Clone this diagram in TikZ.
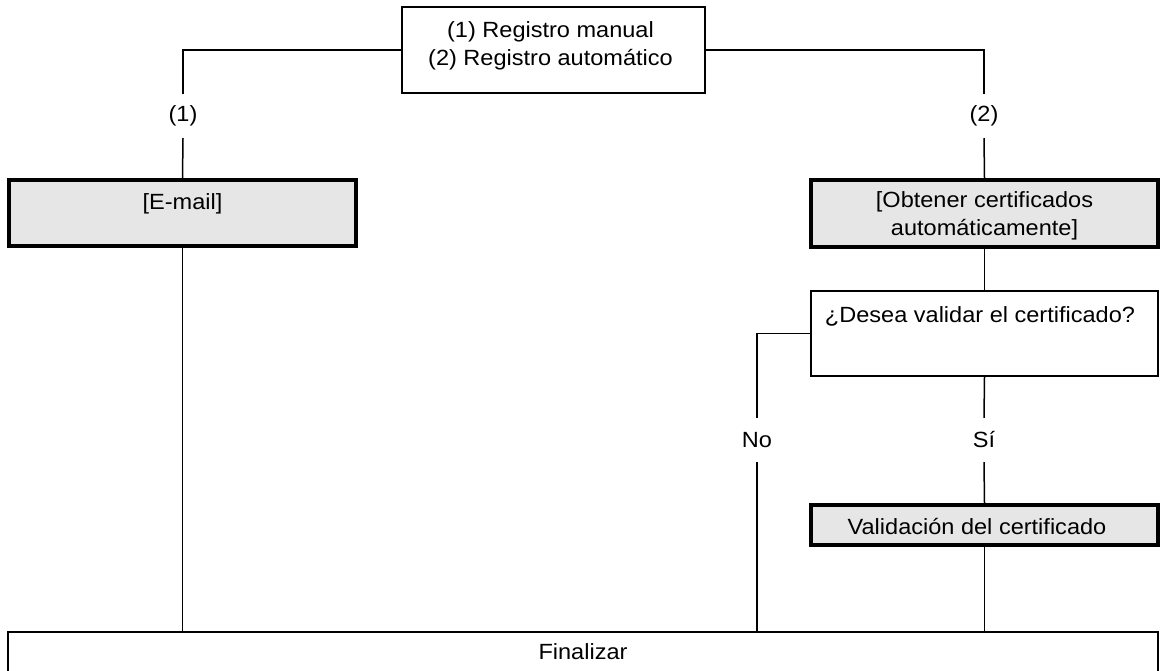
\documentclass[tikz,border=0pt]{standalone}
\usepackage{fontspec}
\setmainfont{Liberation Sans}[FakeStretch=1.07]
\begin{document}
\begin{tikzpicture}[x=1pt,y=-1pt,
  thinline/.style={line width=1.5pt},
  plainbox/.style={draw, line width=1.6pt, fill=white, inner sep=0pt, rectangle},
  graybox/.style={draw, line width=3.5pt, fill=boxgray, inner sep=0pt, rectangle},
  txt/.style={font=\fontsize{22}{28}\selectfont, inner sep=0pt, anchor=base, align=center},
  lbl/.style={font=\fontsize{22}{28}\selectfont, inner sep=0pt, minimum height=44pt, minimum width=30pt}
]
\definecolor{boxgray}{HTML}{E6E6E6}
\fill[white] (0,0) rectangle (1161,671);
\useasboundingbox (0,0) rectangle (1161,671);

% boxes
\node[plainbox, minimum width=303pt, minimum height=86pt] (top) at (553.5,50) {};
\node[graybox, minimum width=347pt, minimum height=66pt] (email) at (182.5,213) {};
\node[graybox, minimum width=347pt, minimum height=67pt] (obt) at (984.5,213.5) {};
\node[plainbox, minimum width=347pt, minimum height=85pt] (q) at (984.5,333.5) {};
\node[graybox, minimum width=347pt, minimum height=40pt] (val) at (984.5,525) {};
\node[plainbox, minimum width=1150pt, minimum height=46pt] (fin) at (583,655) {};

% texts (base = baseline of the last line)
\node[txt] (toptxt) at (550.5,65.5) {(1) Registro manual\\(2) Registro automático};
\node[txt] (emailtxt) at (182.5,209) {[E-mail]};
\node[txt] (obttxt) at (984.5,235.5) {[Obtener certificados\\automáticamente]};
\node[txt] (qtxt) at (980,322) {¿Desea validar el certificado?};
\node[txt] (valtxt) at (977,534) {Validación del certificado};
\node[txt] (fintxt) at (583,659.5) {Finalizar};

% branch labels
\node[lbl] (l1) at (183,116) {(1)};
\node[lbl] (l2) at (984,116) {(2)};
\node[lbl] (lno) at (757,440) {No};
\node[lbl] (lsi) at (984,440) {Sí};

% connectors
\draw[thinline] (top.west) -| (l1.north);
\draw[thinline] (l1.south) -- (email.north);
\draw[thinline] (top.east) -| (l2.north);
\draw[thinline] (l2.south) -- (obt.north);
\draw[thinline] (obt.south) -- (q.north);
\draw[thinline] (q.west) -| (lno.north);
\draw[thinline] (lno.south) -- (lno.south |- fin.north);
\draw[thinline] (q.south) -- (lsi.north);
\draw[thinline] (lsi.south) -- (val.north);
\draw[thinline] (val.south) -- (val.south |- fin.north);
\draw[thinline] (email.south) -- (email.south |- fin.north);
\end{tikzpicture}
\end{document}
